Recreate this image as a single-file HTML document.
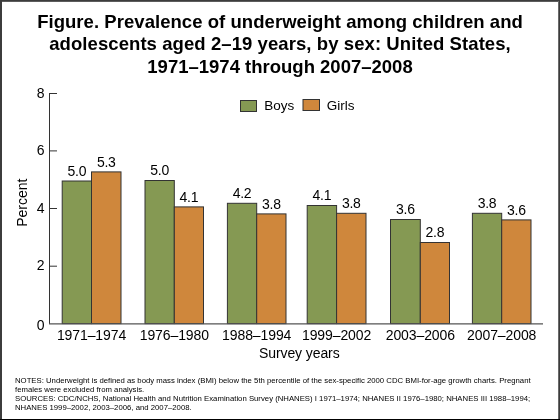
<!DOCTYPE html>
<html><head><meta charset="utf-8"><style>
html,body{margin:0;padding:0;background:#fff;}
body{width:560px;height:420px;overflow:hidden;position:relative;}
svg{position:absolute;left:0;top:0;will-change:transform;}
text{font-family:"Liberation Sans",sans-serif;fill:#000;}
.t{font-weight:bold;font-size:18.5px;text-anchor:middle;}
.v{font-size:14px;text-anchor:middle;letter-spacing:-0.25px;}
.xl{font-size:14px;text-anchor:middle;letter-spacing:-0.1px;}
.yl{font-size:14px;text-anchor:end;}
.lg{font-size:13.5px;}
.n{font-size:7.75px;}
</style></head><body>
<svg width="560" height="420" viewBox="0 0 560 420">
<rect x="0" y="0" width="560" height="420" fill="#fff"/>
<text x="280" y="27.5" class="t" style="letter-spacing:0.05px">Figure. Prevalence of underweight among children and</text>
<text x="280" y="50.4" class="t" style="letter-spacing:0.08px">adolescents aged 2–19 years, by sex: United States,</text>
<text x="280" y="72.8" class="t">1971–1974 through 2007–2008</text>
<rect x="240.5" y="100.5" width="16" height="11" fill="#859953" stroke="#333"/>
<text x="264.3" y="109.6" class="lg">Boys</text>
<rect x="303" y="99.5" width="16.5" height="11" fill="#CF873C" stroke="#333"/>
<text x="326.8" y="109.6" class="lg">Girls</text>
<rect x="62.2" y="181.0" width="29.30" height="142.60" fill="#859953" stroke="#333"/>
<rect x="91.5" y="171.9" width="29.50" height="151.70" fill="#CF873C" stroke="#333"/>
<text x="76.85" y="175.80" class="v">5.0</text>
<text x="106.25" y="166.70" class="v">5.3</text>
<text x="91.50" y="339.6" class="xl">1971–1974</text>
<rect x="145.0" y="180.5" width="29.30" height="143.10" fill="#859953" stroke="#333"/>
<rect x="174.3" y="206.9" width="29.20" height="116.70" fill="#CF873C" stroke="#333"/>
<text x="159.65" y="175.30" class="v">5.0</text>
<text x="188.90" y="201.70" class="v">4.1</text>
<text x="174.30" y="339.6" class="xl">1976–1980</text>
<rect x="227.4" y="203.3" width="29.30" height="120.30" fill="#859953" stroke="#333"/>
<rect x="256.7" y="213.9" width="29.30" height="109.70" fill="#CF873C" stroke="#333"/>
<text x="242.05" y="198.10" class="v">4.2</text>
<text x="271.35" y="208.70" class="v">3.8</text>
<text x="256.70" y="339.6" class="xl">1988–1994</text>
<rect x="307.2" y="205.5" width="29.40" height="118.10" fill="#859953" stroke="#333"/>
<rect x="336.6" y="213.3" width="29.40" height="110.30" fill="#CF873C" stroke="#333"/>
<text x="321.90" y="200.30" class="v">4.1</text>
<text x="351.30" y="208.10" class="v">3.8</text>
<text x="336.60" y="339.6" class="xl">1999–2002</text>
<rect x="390.5" y="219.5" width="29.80" height="104.10" fill="#859953" stroke="#333"/>
<rect x="420.3" y="242.5" width="29.20" height="81.10" fill="#CF873C" stroke="#333"/>
<text x="405.40" y="214.30" class="v">3.6</text>
<text x="434.90" y="237.30" class="v">2.8</text>
<text x="420.30" y="339.6" class="xl">2003–2006</text>
<rect x="472.4" y="213.3" width="29.30" height="110.30" fill="#859953" stroke="#333"/>
<rect x="501.7" y="219.9" width="29.30" height="103.70" fill="#CF873C" stroke="#333"/>
<text x="487.05" y="208.10" class="v">3.8</text>
<text x="516.35" y="214.70" class="v">3.6</text>
<text x="501.70" y="339.6" class="xl">2007–2008</text>
<line x1="49.5" y1="93" x2="49.5" y2="324" stroke="#333"/>
<line x1="49" y1="323.8" x2="543" y2="323.8" stroke="#555" stroke-width="1.3"/>
<text x="44.6" y="98.00" class="yl">8</text>
<line x1="49" y1="93.5" x2="57" y2="93.5" stroke="#333"/>
<text x="44.6" y="154.90" class="yl">6</text>
<line x1="49" y1="150.9" x2="57" y2="150.9" stroke="#333"/>
<text x="44.6" y="213.00" class="yl">4</text>
<line x1="49" y1="208.5" x2="57" y2="208.5" stroke="#333"/>
<text x="44.6" y="270.40" class="yl">2</text>
<line x1="49" y1="266.2" x2="57" y2="266.2" stroke="#333"/>
<text x="44.6" y="329.60" class="yl">0</text>

<text transform="translate(27,202.7) rotate(-90)" class="xl" style="letter-spacing:0">Percent</text>
<text x="299.3" y="357.9" class="xl">Survey years</text>
<text x="15" y="382.7" class="n">NOTES: Underweight is defined as body mass index (BMI) below the 5th percentile of the sex-specific 2000 CDC BMI-for-age growth charts. Pregnant</text>
<text x="15" y="391.7" class="n">females were excluded from analysis.</text>
<text x="15" y="400.7" class="n">SOURCES: CDC/NCHS, National Health and Nutrition Examination Survey (NHANES) I 1971–1974; NHANES II 1976–1980; NHANES III 1988–1994;</text>
<text x="15" y="409.7" class="n">NHANES 1999–2002, 2003–2006, and 2007–2008.</text>
<rect x="0" y="0" width="2" height="420" fill="#3c3c3c"/>
<rect x="0" y="0" width="560" height="1" fill="#3c3c3c"/>
<rect x="2" y="1" width="556" height="1" fill="#5c5c5c"/>
<rect x="558" y="1" width="1" height="418" fill="#6a6a6a"/>
<rect x="559" y="0" width="1" height="420" fill="#3c3c3c"/>
<rect x="0" y="419" width="560" height="1" fill="#000"/>
</svg>
</body></html>
